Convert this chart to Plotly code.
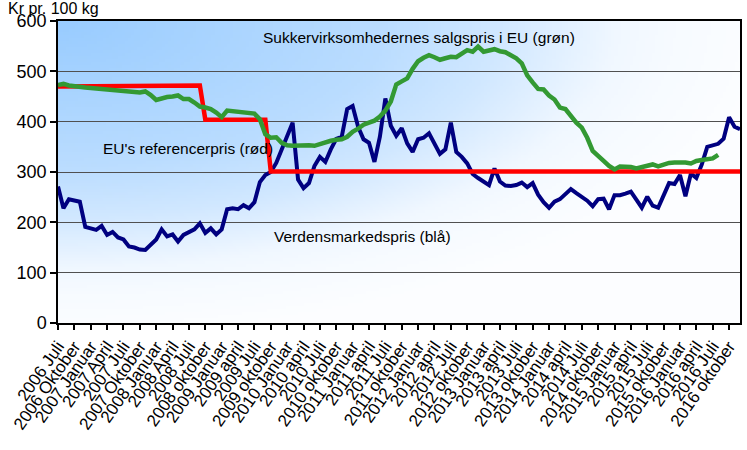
import zlib, struct, base64
import numpy as np
import plotly.graph_objects as go

# ---------------- data ----------------
tick_labels = ["2006 Juli", "2006 Oktober", "2007 Januar", "2007 April", "2007 Juli", "2007 Oktober",
               "2008 Januar", "2008 April", "2008 Juli", "2008 oktober", "2009 Januar", "2009 april",
               "2009 Juli", "2009 oktober", "2010 Januar", "2010 april", "2010 Juli", "2010 oktober",
               "2011 Januar", "2011 april", "2011 Juli", "2011 oktober", "2012 Januar", "2012 april",
               "2012 Juli", "2012 oktober", "2013 Januar", "2013 april", "2013 Juli", "2013 oktober",
               "2014 Januar", "2014 april", "2014 Juli", "2014 oktober", "2015 Januar", "2015 april",
               "2015 Juli", "2015 oktober", "2016 Januar", "2016 april", "2016 Juli", "2016 oktober"]

# monthly values, July 2006 .. December 2016
world_price = [271, 228, 246, 243, 241, 191, 187, 185, 193, 175,
               181, 170, 166, 152, 150, 146, 145, 155, 166, 186,
               172, 176, 162, 175, 180, 186, 198, 179, 188, 176,
               186, 226, 228, 226, 234, 228, 240, 280, 294, 300,
               318, 345, 375, 398, 285, 268, 278, 312, 330, 320,
               345, 366, 370, 425, 431, 390, 365, 358, 320, 370,
               446, 392, 372, 387, 357, 340, 365, 368, 377, 355,
               336, 345, 398, 340, 330, 317, 296, 288, 282, 274,
               307, 281, 273, 272, 274, 279, 270, 278, 255, 240,
               229, 241, 246, 256, 266, 258, 250, 243, 232, 246,
               247, 226, 254, 254, 257, 261, 245, 229, 251, 233,
               229, 256, 278, 276, 294, 252, 297, 288, 315, 350,
               353, 356, 366, 409, 390, 385]

eu_reference = [470, 470, 470, 470, 470, 470, 470, 470, 470, 470,
                470, 470, 471, 471, 471, 471, 471, 471, 471, 471,
                471, 472, 472, 472, 472, 472, 472, 404, 404, 404,
                404, 404, 404, 404, 404, 404, 404, 404, 404, 301,
                301, 301, 301, 301, 301, 301, 301, 301, 301, 301,
                301, 301, 301, 301, 301, 301, 301, 301, 301, 301,
                301, 301, 301, 301, 301, 301, 301, 301, 301, 301,
                301, 301, 301, 301, 301, 301, 301, 301, 301, 301,
                301, 301, 301, 301, 301, 301, 301, 301, 301, 301,
                301, 301, 301, 301, 301, 301, 301, 301, 301, 301,
                301, 301, 301, 301, 301, 301, 301, 301, 301, 301,
                301, 301, 301, 301, 301, 301, 301, 301, 301, 301,
                301, 301, 301, 301, 301, 301]

eu_sales = [473, 475, 472, 470, 469, 468, 467, 466, 466, 464,
            462, 461, 460, 460, 459, 458, 460, 453, 443, 447,
            449, 450, 452, 445, 445, 438, 430, 428, 425, 418,
            409, 422, 421, 420, 419, 418, 416, 405, 375, 368,
            369, 358, 353, 352, 353, 354, 353, 352, 356, 359,
            362, 364, 365, 370, 380, 386, 394, 398, 402, 410,
            422, 440, 474, 480, 486, 505, 520, 527, 532, 528,
            523, 526, 529, 528, 535, 542, 539, 549, 539, 541,
            544, 540, 538, 532, 526, 516, 492, 478, 465, 464,
            452, 444, 428, 425, 410, 398, 388, 368, 342, 333,
            322, 312, 305, 311, 311, 310, 307, 309, 312, 315,
            311, 315, 318, 319, 320, 319, 317, 322, 324, 325,
            327, 334]

months = list(range(len(world_price)))
tick_vals = [3 * i for i in range(len(tick_labels))]

# ---------------- background gradient image ----------------
W, H = 220, 100
u = (np.arange(W) + 0.5) / W
v = (np.arange(H) + 0.5) / H
U, V = np.meshgrid(u, v)
r = np.sqrt(U ** 2 + V ** 2)
s = np.interp(r, [0.0, 0.48, 0.65, 0.82, 0.9, 1.05], [0.0, 0.33, 0.55, 0.86, 0.92, 0.98])
blue = np.array([153, 204, 255], float)
white = np.array([255, 255, 255], float)
img = (blue[None, None, :] * (1 - s[..., None]) + white[None, None, :] * s[..., None]).astype(np.uint8)


def png_uri(arr):
    h, w, _ = arr.shape
    raw = b"".join(b"\x00" + arr[j].tobytes() for j in range(h))

    def chunk(t, d):
        return struct.pack(">I", len(d)) + t + d + struct.pack(">I", zlib.crc32(t + d) & 0xffffffff)

    data = (b"\x89PNG\r\n\x1a\n" + chunk(b"IHDR", struct.pack(">IIBBBBB", w, h, 8, 2, 0, 0, 0))
            + chunk(b"IDAT", zlib.compress(raw, 9)) + chunk(b"IEND", b""))
    return "data:image/png;base64," + base64.b64encode(data).decode()


# ---------------- figure ----------------
FONT = "Liberation Sans, Arial, sans-serif"
fig = go.Figure()
fig.add_trace(go.Scatter(x=months, y=world_price, mode="lines",
                         line=dict(color="#000080", width=4), name="Verdensmarkedspris"))
fig.add_trace(go.Scatter(x=months, y=eu_reference, mode="lines",
                         line=dict(color="#FF0000", width=4.5), name="EU's referencepris"))
fig.add_trace(go.Scatter(x=months[:len(eu_sales)], y=eu_sales, mode="lines",
                         line=dict(color="#339933", width=4.5), name="Salgspris i EU"))

fig.add_layout_image(dict(source=png_uri(img), xref="paper", yref="paper", x=0, y=1,
                          sizex=1, sizey=1, sizing="stretch", xanchor="left", yanchor="top",
                          layer="below"))

fig.update_layout(
    width=747, height=450,
    margin=dict(l=58, r=7, t=21, b=127),
    paper_bgcolor="white", plot_bgcolor="rgba(0,0,0,0)",
    showlegend=False,
    font=dict(family=FONT, color="black"),
    xaxis=dict(range=[0, 125], tickmode="array", tickvals=tick_vals, ticktext=tick_labels,
               tickangle=-55, tickfont=dict(size=17, family=FONT), ticks="outside", ticklen=5,
               tickwidth=1.5, tickcolor="black", showgrid=False, zeroline=False, automargin=False,
               showline=True, linecolor="black", linewidth=1.5, mirror=True),
    yaxis=dict(range=[0, 600], dtick=100, tickfont=dict(size=18, family=FONT), ticks="outside",
               ticklen=6, tickwidth=1.5, tickcolor="black", showgrid=True, gridcolor="#505050",
               gridwidth=1.2, zeroline=False, showline=True, linecolor="black", linewidth=1.5,
               mirror=True, automargin=False),
    annotations=[
        dict(text="Kr pr. 100 kg", xref="paper", yref="paper", x=-0.075, y=1.072,
             xanchor="left", yanchor="top", showarrow=False, borderpad=0,
             font=dict(size=16, family=FONT)),
        dict(text="Sukkervirksomhedernes salgspris i EU (grøn)", xref="paper", yref="paper",
             x=0.529, y=0.944, xanchor="center", yanchor="middle", showarrow=False,
             font=dict(size=15.5, family=FONT)),
        dict(text="EU's referencerpris (rød)", xref="paper", yref="paper",
             x=0.191, y=0.579, xanchor="center", yanchor="middle", showarrow=False,
             font=dict(size=15.5, family=FONT)),
        dict(text="Verdensmarkedspris (blå)", xref="paper", yref="paper",
             x=0.446, y=0.285, xanchor="center", yanchor="middle", showarrow=False,
             font=dict(size=15.5, family=FONT)),
    ],
)

fig.write_html("out.html", config={"displayModeBar": False},
               post_script="document.body.style.margin='0px';")
